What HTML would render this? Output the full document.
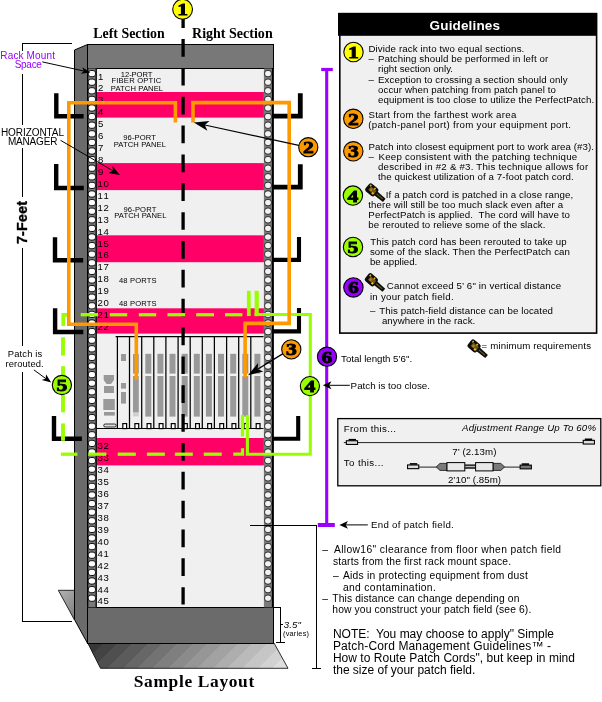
<!DOCTYPE html>
<html lang="en"><head><meta charset="utf-8"><title>Sample Layout - Guidelines</title>
<style>html,body{margin:0;padding:0;background:#fff}body{width:602px;height:702px;overflow:hidden}svg{will-change:transform}svg text{white-space:pre}</style>
</head><body>
<svg width="602" height="702" viewBox="0 0 602 702" style="display:block">
<defs>
<linearGradient id="sh" gradientUnits="userSpaceOnUse" x1="88" y1="643" x2="200.5" y2="755.5"><stop offset="0.0000" stop-color="#383838"/><stop offset="0.0667" stop-color="#383838"/><stop offset="0.0667" stop-color="#434343"/><stop offset="0.1333" stop-color="#434343"/><stop offset="0.1333" stop-color="#4f4f4f"/><stop offset="0.2000" stop-color="#4f4f4f"/><stop offset="0.2000" stop-color="#5b5b5b"/><stop offset="0.2667" stop-color="#5b5b5b"/><stop offset="0.2667" stop-color="#676767"/><stop offset="0.3333" stop-color="#676767"/><stop offset="0.3333" stop-color="#737373"/><stop offset="0.4000" stop-color="#737373"/><stop offset="0.4000" stop-color="#7f7f7f"/><stop offset="0.4667" stop-color="#7f7f7f"/><stop offset="0.4667" stop-color="#8b8b8b"/><stop offset="0.5333" stop-color="#8b8b8b"/><stop offset="0.5333" stop-color="#969696"/><stop offset="0.6000" stop-color="#969696"/><stop offset="0.6000" stop-color="#a2a2a2"/><stop offset="0.6667" stop-color="#a2a2a2"/><stop offset="0.6667" stop-color="#aeaeae"/><stop offset="0.7333" stop-color="#aeaeae"/><stop offset="0.7333" stop-color="#bababa"/><stop offset="0.8000" stop-color="#bababa"/><stop offset="0.8000" stop-color="#c6c6c6"/><stop offset="0.8667" stop-color="#c6c6c6"/><stop offset="0.8667" stop-color="#d2d2d2"/><stop offset="0.9333" stop-color="#d2d2d2"/><stop offset="0.9333" stop-color="#dedede"/><stop offset="1.0000" stop-color="#dedede"/></linearGradient>
<linearGradient id="sh2" gradientUnits="userSpaceOnUse" x1="58" y1="590" x2="80.5" y2="612.5"><stop offset="0" stop-color="#b4b4b4"/><stop offset="1" stop-color="#7c7c7c"/></linearGradient>
</defs>
<rect width="602" height="702" fill="#fff"/>
<polygon points="58.3,590.3 74.5,590.3 74.5,620 " fill="url(#sh2)" stroke="#000" stroke-width="0.8"/>
<polygon points="87.7,643 274,643 288,668.3 100.5,668.3" fill="url(#sh)" stroke="#000" stroke-width="0.8"/>
<polygon points="74.5,50 87.5,44.5 87.5,643.3 74.5,619.6" fill="#6b6b6b" stroke="#000" stroke-width="1"/>
<rect x="96.5" y="68.5" width="167.5" height="539" fill="#f0f0f0"/>
<rect x="87.5" y="44.5" width="186" height="24" fill="#787878" stroke="#000" stroke-width="1" shape-rendering="crispEdges"/>
<rect x="87.5" y="607.5" width="186" height="36" fill="#6b6b6b" stroke="#000" stroke-width="1" shape-rendering="crispEdges"/>
<rect x="87.6" y="68.5" width="8.9" height="538.8" fill="#7a7a7a"/>
<rect x="263.9" y="68.5" width="9.1" height="538.8" fill="#7a7a7a"/>
<line x1="87.7" y1="68" x2="87.7" y2="607" stroke="#000" stroke-width="1.3"/>
<line x1="272.9" y1="68" x2="272.9" y2="607" stroke="#000" stroke-width="2"/>
<rect x="96.5" y="92" width="167.4" height="25.6" fill="#ff0066"/>
<rect x="96.5" y="163.1" width="167.4" height="27.0" fill="#ff0066"/>
<rect x="96.5" y="235.3" width="167.4" height="26.9" fill="#ff0066"/>
<rect x="96.5" y="308.3" width="167.4" height="25.3" fill="#ff0066"/>
<rect x="96.5" y="438" width="167.4" height="27.4" fill="#ff0066"/>
<line x1="96.2" y1="68.5" x2="96.2" y2="607" stroke="#000" stroke-width="1.3"/>
<rect x="88.3" y="70.50" width="7.2" height="6.2" rx="2.5" fill="#fdfdfd" stroke="#000" stroke-width="0.9"/>
<rect x="264.6" y="70.50" width="6.8" height="6.2" rx="2.6" fill="#f2f2f2" stroke="#1a1a1a" stroke-width="0.9"/>
<rect x="88.3" y="79.10" width="7.2" height="6.2" rx="2.5" fill="#fdfdfd" stroke="#000" stroke-width="0.9"/>
<rect x="264.6" y="79.10" width="6.8" height="6.2" rx="2.6" fill="#f2f2f2" stroke="#1a1a1a" stroke-width="0.9"/>
<rect x="88.3" y="87.70" width="7.2" height="6.2" rx="2.5" fill="#fdfdfd" stroke="#000" stroke-width="0.9"/>
<rect x="264.6" y="87.70" width="6.8" height="6.2" rx="2.6" fill="#f2f2f2" stroke="#1a1a1a" stroke-width="0.9"/>
<rect x="88.3" y="96.30" width="7.2" height="6.2" rx="2.5" fill="#fdfdfd" stroke="#000" stroke-width="0.9"/>
<rect x="264.6" y="96.30" width="6.8" height="6.2" rx="2.6" fill="#f2f2f2" stroke="#1a1a1a" stroke-width="0.9"/>
<rect x="88.3" y="104.90" width="7.2" height="6.2" rx="2.5" fill="#fdfdfd" stroke="#000" stroke-width="0.9"/>
<rect x="264.6" y="104.90" width="6.8" height="6.2" rx="2.6" fill="#f2f2f2" stroke="#1a1a1a" stroke-width="0.9"/>
<rect x="88.3" y="113.50" width="7.2" height="6.2" rx="2.5" fill="#fdfdfd" stroke="#000" stroke-width="0.9"/>
<rect x="264.6" y="113.50" width="6.8" height="6.2" rx="2.6" fill="#f2f2f2" stroke="#1a1a1a" stroke-width="0.9"/>
<rect x="88.3" y="122.10" width="7.2" height="6.2" rx="2.5" fill="#fdfdfd" stroke="#000" stroke-width="0.9"/>
<rect x="264.6" y="122.10" width="6.8" height="6.2" rx="2.6" fill="#f2f2f2" stroke="#1a1a1a" stroke-width="0.9"/>
<rect x="88.3" y="130.70" width="7.2" height="6.2" rx="2.5" fill="#fdfdfd" stroke="#000" stroke-width="0.9"/>
<rect x="264.6" y="130.70" width="6.8" height="6.2" rx="2.6" fill="#f2f2f2" stroke="#1a1a1a" stroke-width="0.9"/>
<rect x="88.3" y="139.30" width="7.2" height="6.2" rx="2.5" fill="#fdfdfd" stroke="#000" stroke-width="0.9"/>
<rect x="264.6" y="139.30" width="6.8" height="6.2" rx="2.6" fill="#f2f2f2" stroke="#1a1a1a" stroke-width="0.9"/>
<rect x="88.3" y="147.90" width="7.2" height="6.2" rx="2.5" fill="#fdfdfd" stroke="#000" stroke-width="0.9"/>
<rect x="264.6" y="147.90" width="6.8" height="6.2" rx="2.6" fill="#f2f2f2" stroke="#1a1a1a" stroke-width="0.9"/>
<rect x="88.3" y="156.50" width="7.2" height="6.2" rx="2.5" fill="#fdfdfd" stroke="#000" stroke-width="0.9"/>
<rect x="264.6" y="156.50" width="6.8" height="6.2" rx="2.6" fill="#f2f2f2" stroke="#1a1a1a" stroke-width="0.9"/>
<rect x="88.3" y="165.10" width="7.2" height="6.2" rx="2.5" fill="#fdfdfd" stroke="#000" stroke-width="0.9"/>
<rect x="264.6" y="165.10" width="6.8" height="6.2" rx="2.6" fill="#f2f2f2" stroke="#1a1a1a" stroke-width="0.9"/>
<rect x="88.3" y="173.70" width="7.2" height="6.2" rx="2.5" fill="#fdfdfd" stroke="#000" stroke-width="0.9"/>
<rect x="264.6" y="173.70" width="6.8" height="6.2" rx="2.6" fill="#f2f2f2" stroke="#1a1a1a" stroke-width="0.9"/>
<rect x="88.3" y="182.30" width="7.2" height="6.2" rx="2.5" fill="#fdfdfd" stroke="#000" stroke-width="0.9"/>
<rect x="264.6" y="182.30" width="6.8" height="6.2" rx="2.6" fill="#f2f2f2" stroke="#1a1a1a" stroke-width="0.9"/>
<rect x="88.3" y="190.90" width="7.2" height="6.2" rx="2.5" fill="#fdfdfd" stroke="#000" stroke-width="0.9"/>
<rect x="264.6" y="190.90" width="6.8" height="6.2" rx="2.6" fill="#f2f2f2" stroke="#1a1a1a" stroke-width="0.9"/>
<rect x="88.3" y="199.50" width="7.2" height="6.2" rx="2.5" fill="#fdfdfd" stroke="#000" stroke-width="0.9"/>
<rect x="264.6" y="199.50" width="6.8" height="6.2" rx="2.6" fill="#f2f2f2" stroke="#1a1a1a" stroke-width="0.9"/>
<rect x="88.3" y="208.10" width="7.2" height="6.2" rx="2.5" fill="#fdfdfd" stroke="#000" stroke-width="0.9"/>
<rect x="264.6" y="208.10" width="6.8" height="6.2" rx="2.6" fill="#f2f2f2" stroke="#1a1a1a" stroke-width="0.9"/>
<rect x="88.3" y="216.70" width="7.2" height="6.2" rx="2.5" fill="#fdfdfd" stroke="#000" stroke-width="0.9"/>
<rect x="264.6" y="216.70" width="6.8" height="6.2" rx="2.6" fill="#f2f2f2" stroke="#1a1a1a" stroke-width="0.9"/>
<rect x="88.3" y="225.30" width="7.2" height="6.2" rx="2.5" fill="#fdfdfd" stroke="#000" stroke-width="0.9"/>
<rect x="264.6" y="225.30" width="6.8" height="6.2" rx="2.6" fill="#f2f2f2" stroke="#1a1a1a" stroke-width="0.9"/>
<rect x="88.3" y="233.90" width="7.2" height="6.2" rx="2.5" fill="#fdfdfd" stroke="#000" stroke-width="0.9"/>
<rect x="264.6" y="233.90" width="6.8" height="6.2" rx="2.6" fill="#f2f2f2" stroke="#1a1a1a" stroke-width="0.9"/>
<rect x="88.3" y="242.50" width="7.2" height="6.2" rx="2.5" fill="#fdfdfd" stroke="#000" stroke-width="0.9"/>
<rect x="264.6" y="242.50" width="6.8" height="6.2" rx="2.6" fill="#f2f2f2" stroke="#1a1a1a" stroke-width="0.9"/>
<rect x="88.3" y="251.10" width="7.2" height="6.2" rx="2.5" fill="#fdfdfd" stroke="#000" stroke-width="0.9"/>
<rect x="264.6" y="251.10" width="6.8" height="6.2" rx="2.6" fill="#f2f2f2" stroke="#1a1a1a" stroke-width="0.9"/>
<rect x="88.3" y="259.70" width="7.2" height="6.2" rx="2.5" fill="#fdfdfd" stroke="#000" stroke-width="0.9"/>
<rect x="264.6" y="259.70" width="6.8" height="6.2" rx="2.6" fill="#f2f2f2" stroke="#1a1a1a" stroke-width="0.9"/>
<rect x="88.3" y="268.30" width="7.2" height="6.2" rx="2.5" fill="#fdfdfd" stroke="#000" stroke-width="0.9"/>
<rect x="264.6" y="268.30" width="6.8" height="6.2" rx="2.6" fill="#f2f2f2" stroke="#1a1a1a" stroke-width="0.9"/>
<rect x="88.3" y="276.90" width="7.2" height="6.2" rx="2.5" fill="#fdfdfd" stroke="#000" stroke-width="0.9"/>
<rect x="264.6" y="276.90" width="6.8" height="6.2" rx="2.6" fill="#f2f2f2" stroke="#1a1a1a" stroke-width="0.9"/>
<rect x="88.3" y="285.50" width="7.2" height="6.2" rx="2.5" fill="#fdfdfd" stroke="#000" stroke-width="0.9"/>
<rect x="264.6" y="285.50" width="6.8" height="6.2" rx="2.6" fill="#f2f2f2" stroke="#1a1a1a" stroke-width="0.9"/>
<rect x="88.3" y="294.10" width="7.2" height="6.2" rx="2.5" fill="#fdfdfd" stroke="#000" stroke-width="0.9"/>
<rect x="264.6" y="294.10" width="6.8" height="6.2" rx="2.6" fill="#f2f2f2" stroke="#1a1a1a" stroke-width="0.9"/>
<rect x="88.3" y="302.70" width="7.2" height="6.2" rx="2.5" fill="#fdfdfd" stroke="#000" stroke-width="0.9"/>
<rect x="264.6" y="302.70" width="6.8" height="6.2" rx="2.6" fill="#f2f2f2" stroke="#1a1a1a" stroke-width="0.9"/>
<rect x="88.3" y="311.30" width="7.2" height="6.2" rx="2.5" fill="#fdfdfd" stroke="#000" stroke-width="0.9"/>
<rect x="264.6" y="311.30" width="6.8" height="6.2" rx="2.6" fill="#f2f2f2" stroke="#1a1a1a" stroke-width="0.9"/>
<rect x="88.3" y="319.90" width="7.2" height="6.2" rx="2.5" fill="#fdfdfd" stroke="#000" stroke-width="0.9"/>
<rect x="264.6" y="319.90" width="6.8" height="6.2" rx="2.6" fill="#f2f2f2" stroke="#1a1a1a" stroke-width="0.9"/>
<rect x="88.3" y="328.50" width="7.2" height="6.2" rx="2.5" fill="#fdfdfd" stroke="#000" stroke-width="0.9"/>
<rect x="264.6" y="328.50" width="6.8" height="6.2" rx="2.6" fill="#f2f2f2" stroke="#1a1a1a" stroke-width="0.9"/>
<rect x="88.3" y="337.10" width="7.2" height="6.2" rx="2.5" fill="#fdfdfd" stroke="#000" stroke-width="0.9"/>
<rect x="264.6" y="337.10" width="6.8" height="6.2" rx="2.6" fill="#f2f2f2" stroke="#1a1a1a" stroke-width="0.9"/>
<rect x="88.3" y="345.70" width="7.2" height="6.2" rx="2.5" fill="#fdfdfd" stroke="#000" stroke-width="0.9"/>
<rect x="264.6" y="345.70" width="6.8" height="6.2" rx="2.6" fill="#f2f2f2" stroke="#1a1a1a" stroke-width="0.9"/>
<rect x="88.3" y="354.30" width="7.2" height="6.2" rx="2.5" fill="#fdfdfd" stroke="#000" stroke-width="0.9"/>
<rect x="264.6" y="354.30" width="6.8" height="6.2" rx="2.6" fill="#f2f2f2" stroke="#1a1a1a" stroke-width="0.9"/>
<rect x="88.3" y="362.90" width="7.2" height="6.2" rx="2.5" fill="#fdfdfd" stroke="#000" stroke-width="0.9"/>
<rect x="264.6" y="362.90" width="6.8" height="6.2" rx="2.6" fill="#f2f2f2" stroke="#1a1a1a" stroke-width="0.9"/>
<rect x="88.3" y="371.50" width="7.2" height="6.2" rx="2.5" fill="#fdfdfd" stroke="#000" stroke-width="0.9"/>
<rect x="264.6" y="371.50" width="6.8" height="6.2" rx="2.6" fill="#f2f2f2" stroke="#1a1a1a" stroke-width="0.9"/>
<rect x="88.3" y="380.10" width="7.2" height="6.2" rx="2.5" fill="#fdfdfd" stroke="#000" stroke-width="0.9"/>
<rect x="264.6" y="380.10" width="6.8" height="6.2" rx="2.6" fill="#f2f2f2" stroke="#1a1a1a" stroke-width="0.9"/>
<rect x="88.3" y="388.70" width="7.2" height="6.2" rx="2.5" fill="#fdfdfd" stroke="#000" stroke-width="0.9"/>
<rect x="264.6" y="388.70" width="6.8" height="6.2" rx="2.6" fill="#f2f2f2" stroke="#1a1a1a" stroke-width="0.9"/>
<rect x="88.3" y="397.30" width="7.2" height="6.2" rx="2.5" fill="#fdfdfd" stroke="#000" stroke-width="0.9"/>
<rect x="264.6" y="397.30" width="6.8" height="6.2" rx="2.6" fill="#f2f2f2" stroke="#1a1a1a" stroke-width="0.9"/>
<rect x="88.3" y="405.90" width="7.2" height="6.2" rx="2.5" fill="#fdfdfd" stroke="#000" stroke-width="0.9"/>
<rect x="264.6" y="405.90" width="6.8" height="6.2" rx="2.6" fill="#f2f2f2" stroke="#1a1a1a" stroke-width="0.9"/>
<rect x="88.3" y="414.50" width="7.2" height="6.2" rx="2.5" fill="#fdfdfd" stroke="#000" stroke-width="0.9"/>
<rect x="264.6" y="414.50" width="6.8" height="6.2" rx="2.6" fill="#f2f2f2" stroke="#1a1a1a" stroke-width="0.9"/>
<rect x="88.3" y="423.10" width="7.2" height="6.2" rx="2.5" fill="#fdfdfd" stroke="#000" stroke-width="0.9"/>
<rect x="264.6" y="423.10" width="6.8" height="6.2" rx="2.6" fill="#f2f2f2" stroke="#1a1a1a" stroke-width="0.9"/>
<rect x="88.3" y="431.70" width="7.2" height="6.2" rx="2.5" fill="#fdfdfd" stroke="#000" stroke-width="0.9"/>
<rect x="264.6" y="431.70" width="6.8" height="6.2" rx="2.6" fill="#f2f2f2" stroke="#1a1a1a" stroke-width="0.9"/>
<rect x="88.3" y="440.30" width="7.2" height="6.2" rx="2.5" fill="#fdfdfd" stroke="#000" stroke-width="0.9"/>
<rect x="264.6" y="440.30" width="6.8" height="6.2" rx="2.6" fill="#f2f2f2" stroke="#1a1a1a" stroke-width="0.9"/>
<rect x="88.3" y="448.90" width="7.2" height="6.2" rx="2.5" fill="#fdfdfd" stroke="#000" stroke-width="0.9"/>
<rect x="264.6" y="448.90" width="6.8" height="6.2" rx="2.6" fill="#f2f2f2" stroke="#1a1a1a" stroke-width="0.9"/>
<rect x="88.3" y="457.50" width="7.2" height="6.2" rx="2.5" fill="#fdfdfd" stroke="#000" stroke-width="0.9"/>
<rect x="264.6" y="457.50" width="6.8" height="6.2" rx="2.6" fill="#f2f2f2" stroke="#1a1a1a" stroke-width="0.9"/>
<rect x="88.3" y="466.10" width="7.2" height="6.2" rx="2.5" fill="#fdfdfd" stroke="#000" stroke-width="0.9"/>
<rect x="264.6" y="466.10" width="6.8" height="6.2" rx="2.6" fill="#f2f2f2" stroke="#1a1a1a" stroke-width="0.9"/>
<rect x="88.3" y="474.70" width="7.2" height="6.2" rx="2.5" fill="#fdfdfd" stroke="#000" stroke-width="0.9"/>
<rect x="264.6" y="474.70" width="6.8" height="6.2" rx="2.6" fill="#f2f2f2" stroke="#1a1a1a" stroke-width="0.9"/>
<rect x="88.3" y="483.30" width="7.2" height="6.2" rx="2.5" fill="#fdfdfd" stroke="#000" stroke-width="0.9"/>
<rect x="264.6" y="483.30" width="6.8" height="6.2" rx="2.6" fill="#f2f2f2" stroke="#1a1a1a" stroke-width="0.9"/>
<rect x="88.3" y="491.90" width="7.2" height="6.2" rx="2.5" fill="#fdfdfd" stroke="#000" stroke-width="0.9"/>
<rect x="264.6" y="491.90" width="6.8" height="6.2" rx="2.6" fill="#f2f2f2" stroke="#1a1a1a" stroke-width="0.9"/>
<rect x="88.3" y="500.50" width="7.2" height="6.2" rx="2.5" fill="#fdfdfd" stroke="#000" stroke-width="0.9"/>
<rect x="264.6" y="500.50" width="6.8" height="6.2" rx="2.6" fill="#f2f2f2" stroke="#1a1a1a" stroke-width="0.9"/>
<rect x="88.3" y="509.10" width="7.2" height="6.2" rx="2.5" fill="#fdfdfd" stroke="#000" stroke-width="0.9"/>
<rect x="264.6" y="509.10" width="6.8" height="6.2" rx="2.6" fill="#f2f2f2" stroke="#1a1a1a" stroke-width="0.9"/>
<rect x="88.3" y="517.70" width="7.2" height="6.2" rx="2.5" fill="#fdfdfd" stroke="#000" stroke-width="0.9"/>
<rect x="264.6" y="517.70" width="6.8" height="6.2" rx="2.6" fill="#f2f2f2" stroke="#1a1a1a" stroke-width="0.9"/>
<rect x="88.3" y="526.30" width="7.2" height="6.2" rx="2.5" fill="#fdfdfd" stroke="#000" stroke-width="0.9"/>
<rect x="264.6" y="526.30" width="6.8" height="6.2" rx="2.6" fill="#f2f2f2" stroke="#1a1a1a" stroke-width="0.9"/>
<rect x="88.3" y="534.90" width="7.2" height="6.2" rx="2.5" fill="#fdfdfd" stroke="#000" stroke-width="0.9"/>
<rect x="264.6" y="534.90" width="6.8" height="6.2" rx="2.6" fill="#f2f2f2" stroke="#1a1a1a" stroke-width="0.9"/>
<rect x="88.3" y="543.50" width="7.2" height="6.2" rx="2.5" fill="#fdfdfd" stroke="#000" stroke-width="0.9"/>
<rect x="264.6" y="543.50" width="6.8" height="6.2" rx="2.6" fill="#f2f2f2" stroke="#1a1a1a" stroke-width="0.9"/>
<rect x="88.3" y="552.10" width="7.2" height="6.2" rx="2.5" fill="#fdfdfd" stroke="#000" stroke-width="0.9"/>
<rect x="264.6" y="552.10" width="6.8" height="6.2" rx="2.6" fill="#f2f2f2" stroke="#1a1a1a" stroke-width="0.9"/>
<rect x="88.3" y="560.70" width="7.2" height="6.2" rx="2.5" fill="#fdfdfd" stroke="#000" stroke-width="0.9"/>
<rect x="264.6" y="560.70" width="6.8" height="6.2" rx="2.6" fill="#f2f2f2" stroke="#1a1a1a" stroke-width="0.9"/>
<rect x="88.3" y="569.30" width="7.2" height="6.2" rx="2.5" fill="#fdfdfd" stroke="#000" stroke-width="0.9"/>
<rect x="264.6" y="569.30" width="6.8" height="6.2" rx="2.6" fill="#f2f2f2" stroke="#1a1a1a" stroke-width="0.9"/>
<rect x="88.3" y="577.90" width="7.2" height="6.2" rx="2.5" fill="#fdfdfd" stroke="#000" stroke-width="0.9"/>
<rect x="264.6" y="577.90" width="6.8" height="6.2" rx="2.6" fill="#f2f2f2" stroke="#1a1a1a" stroke-width="0.9"/>
<rect x="88.3" y="586.50" width="7.2" height="6.2" rx="2.5" fill="#fdfdfd" stroke="#000" stroke-width="0.9"/>
<rect x="264.6" y="586.50" width="6.8" height="6.2" rx="2.6" fill="#f2f2f2" stroke="#1a1a1a" stroke-width="0.9"/>
<rect x="88.3" y="595.10" width="7.2" height="6.2" rx="2.5" fill="#fdfdfd" stroke="#000" stroke-width="0.9"/>
<rect x="264.6" y="595.10" width="6.8" height="6.2" rx="2.6" fill="#f2f2f2" stroke="#1a1a1a" stroke-width="0.9"/>
<text x="98.0" y="79.5" font-size="9.6" font-family="Liberation Sans, Arial, sans-serif" fill="#000" textLength="5.4" lengthAdjust="spacing" >1</text>
<text x="98.0" y="91.4" font-size="9.6" font-family="Liberation Sans, Arial, sans-serif" fill="#000" textLength="5.4" lengthAdjust="spacing" >2</text>
<text x="98.0" y="103.4" font-size="9.6" font-family="Liberation Sans, Arial, sans-serif" fill="#000" textLength="5.4" lengthAdjust="spacing" >3</text>
<text x="98.0" y="115.3" font-size="9.6" font-family="Liberation Sans, Arial, sans-serif" fill="#000" textLength="5.4" lengthAdjust="spacing" >4</text>
<text x="98.0" y="127.2" font-size="9.6" font-family="Liberation Sans, Arial, sans-serif" fill="#000" textLength="5.4" lengthAdjust="spacing" >5</text>
<text x="98.0" y="139.2" font-size="9.6" font-family="Liberation Sans, Arial, sans-serif" fill="#000" textLength="5.4" lengthAdjust="spacing" >6</text>
<text x="98.0" y="151.1" font-size="9.6" font-family="Liberation Sans, Arial, sans-serif" fill="#000" textLength="5.4" lengthAdjust="spacing" >7</text>
<text x="98.0" y="163.0" font-size="9.6" font-family="Liberation Sans, Arial, sans-serif" fill="#000" textLength="5.4" lengthAdjust="spacing" >8</text>
<text x="98.0" y="174.9" font-size="9.6" font-family="Liberation Sans, Arial, sans-serif" fill="#000" textLength="5.4" lengthAdjust="spacing" >9</text>
<text x="97.6" y="186.9" font-size="9.6" font-family="Liberation Sans, Arial, sans-serif" fill="#000" textLength="11.2" lengthAdjust="spacing" >10</text>
<text x="97.6" y="198.8" font-size="9.6" font-family="Liberation Sans, Arial, sans-serif" fill="#000" textLength="11.2" lengthAdjust="spacing" >11</text>
<text x="97.6" y="210.7" font-size="9.6" font-family="Liberation Sans, Arial, sans-serif" fill="#000" textLength="11.2" lengthAdjust="spacing" >12</text>
<text x="97.6" y="222.7" font-size="9.6" font-family="Liberation Sans, Arial, sans-serif" fill="#000" textLength="11.2" lengthAdjust="spacing" >13</text>
<text x="97.6" y="234.6" font-size="9.6" font-family="Liberation Sans, Arial, sans-serif" fill="#000" textLength="11.2" lengthAdjust="spacing" >14</text>
<text x="97.6" y="246.5" font-size="9.6" font-family="Liberation Sans, Arial, sans-serif" fill="#000" textLength="11.2" lengthAdjust="spacing" >15</text>
<text x="97.6" y="258.4" font-size="9.6" font-family="Liberation Sans, Arial, sans-serif" fill="#000" textLength="11.2" lengthAdjust="spacing" >16</text>
<text x="97.6" y="270.4" font-size="9.6" font-family="Liberation Sans, Arial, sans-serif" fill="#000" textLength="11.2" lengthAdjust="spacing" >17</text>
<text x="97.6" y="282.3" font-size="9.6" font-family="Liberation Sans, Arial, sans-serif" fill="#000" textLength="11.2" lengthAdjust="spacing" >18</text>
<text x="97.6" y="294.2" font-size="9.6" font-family="Liberation Sans, Arial, sans-serif" fill="#000" textLength="11.2" lengthAdjust="spacing" >19</text>
<text x="97.6" y="306.2" font-size="9.6" font-family="Liberation Sans, Arial, sans-serif" fill="#000" textLength="11.2" lengthAdjust="spacing" >20</text>
<text x="97.6" y="318.1" font-size="9.6" font-family="Liberation Sans, Arial, sans-serif" fill="#000" textLength="11.2" lengthAdjust="spacing" >21</text>
<text x="97.6" y="330.0" font-size="9.6" font-family="Liberation Sans, Arial, sans-serif" fill="#000" textLength="11.2" lengthAdjust="spacing" >22</text>
<text x="97.6" y="449.3" font-size="9.6" font-family="Liberation Sans, Arial, sans-serif" fill="#000" textLength="11.2" lengthAdjust="spacing" >32</text>
<text x="97.6" y="461.3" font-size="9.6" font-family="Liberation Sans, Arial, sans-serif" fill="#000" textLength="11.2" lengthAdjust="spacing" >33</text>
<text x="97.6" y="473.2" font-size="9.6" font-family="Liberation Sans, Arial, sans-serif" fill="#000" textLength="11.2" lengthAdjust="spacing" >34</text>
<text x="97.6" y="485.1" font-size="9.6" font-family="Liberation Sans, Arial, sans-serif" fill="#000" textLength="11.2" lengthAdjust="spacing" >35</text>
<text x="97.6" y="497.0" font-size="9.6" font-family="Liberation Sans, Arial, sans-serif" fill="#000" textLength="11.2" lengthAdjust="spacing" >36</text>
<text x="97.6" y="509.0" font-size="9.6" font-family="Liberation Sans, Arial, sans-serif" fill="#000" textLength="11.2" lengthAdjust="spacing" >37</text>
<text x="97.6" y="520.9" font-size="9.6" font-family="Liberation Sans, Arial, sans-serif" fill="#000" textLength="11.2" lengthAdjust="spacing" >38</text>
<text x="97.6" y="532.8" font-size="9.6" font-family="Liberation Sans, Arial, sans-serif" fill="#000" textLength="11.2" lengthAdjust="spacing" >39</text>
<text x="97.6" y="544.8" font-size="9.6" font-family="Liberation Sans, Arial, sans-serif" fill="#000" textLength="11.2" lengthAdjust="spacing" >40</text>
<text x="97.6" y="556.7" font-size="9.6" font-family="Liberation Sans, Arial, sans-serif" fill="#000" textLength="11.2" lengthAdjust="spacing" >41</text>
<text x="97.6" y="568.6" font-size="9.6" font-family="Liberation Sans, Arial, sans-serif" fill="#000" textLength="11.2" lengthAdjust="spacing" >42</text>
<text x="97.6" y="580.6" font-size="9.6" font-family="Liberation Sans, Arial, sans-serif" fill="#000" textLength="11.2" lengthAdjust="spacing" >43</text>
<text x="97.6" y="592.5" font-size="9.6" font-family="Liberation Sans, Arial, sans-serif" fill="#000" textLength="11.2" lengthAdjust="spacing" >44</text>
<text x="97.6" y="604.4" font-size="9.6" font-family="Liberation Sans, Arial, sans-serif" fill="#000" textLength="11.2" lengthAdjust="spacing" >45</text>
<text x="120.8" y="76.7" font-size="7.6" font-family="Liberation Sans, Arial, sans-serif" fill="#000" textLength="31.6" lengthAdjust="spacing" >12-PORT</text>
<text x="111.4" y="83.4" font-size="7.6" font-family="Liberation Sans, Arial, sans-serif" fill="#000" textLength="49.8" lengthAdjust="spacing" >FIBER OPTIC</text>
<text x="110.8" y="90.7" font-size="7.6" font-family="Liberation Sans, Arial, sans-serif" fill="#000" textLength="52.3" lengthAdjust="spacing" >PATCH PANEL</text>
<text x="123.2" y="140.4" font-size="7.6" font-family="Liberation Sans, Arial, sans-serif" fill="#000" textLength="32.8" lengthAdjust="spacing" >96-PORT</text>
<text x="113.7" y="147.4" font-size="7.6" font-family="Liberation Sans, Arial, sans-serif" fill="#000" textLength="52.3" lengthAdjust="spacing" >PATCH PANEL</text>
<text x="123.5" y="211.5" font-size="7.6" font-family="Liberation Sans, Arial, sans-serif" fill="#000" textLength="32.8" lengthAdjust="spacing" >96-PORT</text>
<text x="114.2" y="218.3" font-size="7.6" font-family="Liberation Sans, Arial, sans-serif" fill="#000" textLength="52.3" lengthAdjust="spacing" >PATCH PANEL</text>
<text x="119.0" y="283.0" font-size="7.6" font-family="Liberation Sans, Arial, sans-serif" fill="#000" textLength="37.5" lengthAdjust="spacing" >48 PORTS</text>
<text x="119.0" y="306.2" font-size="7.6" font-family="Liberation Sans, Arial, sans-serif" fill="#000" textLength="37.5" lengthAdjust="spacing" >48 PORTS</text>
<g stroke="#000" stroke-width="1.25" fill="none">
<line x1="115.6" y1="336.5" x2="263.5" y2="336.5"/>
<line x1="96.5" y1="428.5" x2="263.5" y2="428.5" stroke-width="1.2"/>
<line x1="117.4" y1="336.6" x2="117.4" y2="428.5"/>
<line x1="129.5" y1="336.6" x2="129.5" y2="428.5"/>
<line x1="141.7" y1="336.6" x2="141.7" y2="428.5"/>
<line x1="153.8" y1="336.6" x2="153.8" y2="428.5"/>
<line x1="165.9" y1="336.6" x2="165.9" y2="428.5"/>
<line x1="178.1" y1="336.6" x2="178.1" y2="428.5"/>
<line x1="190.2" y1="336.6" x2="190.2" y2="428.5"/>
<line x1="202.3" y1="336.6" x2="202.3" y2="428.5"/>
<line x1="214.4" y1="336.6" x2="214.4" y2="428.5"/>
<line x1="226.6" y1="336.6" x2="226.6" y2="428.5"/>
<line x1="238.7" y1="336.6" x2="238.7" y2="428.5"/>
<line x1="250.8" y1="336.6" x2="250.8" y2="428.5"/>
</g>
<rect x="121" y="354" width="5" height="7" fill="#999999"/>
<rect x="121" y="383" width="5" height="5.6" fill="#999999"/>
<rect x="121" y="392" width="5" height="11.6" fill="#999999"/>
<rect x="122.8" y="423.6" width="3.8" height="5" fill="#fff" stroke="#000" stroke-width="1.2"/>
<rect x="133" y="354" width="5.8" height="19.6" fill="#999999"/>
<rect x="133" y="376" width="5.8" height="36.5" fill="#999999"/>
<rect x="133" y="413" width="5.8" height="3.4" fill="#d0d0d0"/>
<rect x="134.9" y="423.6" width="3.8" height="5" fill="#fff" stroke="#000" stroke-width="1.2"/>
<rect x="145.3" y="353.8" width="6" height="19.8" fill="#999999"/>
<rect x="145.3" y="376" width="6" height="40.6" fill="#999999"/>
<rect x="147.1" y="423.6" width="3.8" height="5" fill="#fff" stroke="#000" stroke-width="1.2"/>
<rect x="157.4" y="353.8" width="6" height="19.8" fill="#999999"/>
<rect x="157.4" y="376" width="6" height="40.6" fill="#999999"/>
<rect x="159.2" y="423.6" width="3.8" height="5" fill="#fff" stroke="#000" stroke-width="1.2"/>
<rect x="169.5" y="353.8" width="6" height="19.8" fill="#999999"/>
<rect x="169.5" y="376" width="6" height="40.6" fill="#999999"/>
<rect x="171.3" y="423.6" width="3.8" height="5" fill="#fff" stroke="#000" stroke-width="1.2"/>
<rect x="181.7" y="353.8" width="6" height="19.8" fill="#999999"/>
<rect x="181.7" y="376" width="6" height="40.6" fill="#999999"/>
<rect x="183.5" y="423.6" width="3.8" height="5" fill="#fff" stroke="#000" stroke-width="1.2"/>
<rect x="193.8" y="353.8" width="6" height="19.8" fill="#999999"/>
<rect x="193.8" y="376" width="6" height="40.6" fill="#999999"/>
<rect x="195.6" y="423.6" width="3.8" height="5" fill="#fff" stroke="#000" stroke-width="1.2"/>
<rect x="205.9" y="353.8" width="6" height="19.8" fill="#999999"/>
<rect x="205.9" y="376" width="6" height="40.6" fill="#999999"/>
<rect x="207.7" y="423.6" width="3.8" height="5" fill="#fff" stroke="#000" stroke-width="1.2"/>
<rect x="218.0" y="353.8" width="6" height="19.8" fill="#999999"/>
<rect x="218.0" y="376" width="6" height="40.6" fill="#999999"/>
<rect x="219.8" y="423.6" width="3.8" height="5" fill="#fff" stroke="#000" stroke-width="1.2"/>
<rect x="230.2" y="353.8" width="6" height="19.8" fill="#999999"/>
<rect x="230.2" y="376" width="6" height="40.6" fill="#999999"/>
<rect x="232.0" y="423.6" width="3.8" height="5" fill="#fff" stroke="#000" stroke-width="1.2"/>
<rect x="242.3" y="353.8" width="6" height="19.8" fill="#999999"/>
<rect x="242.3" y="376" width="6" height="40.6" fill="#999999"/>
<rect x="244.1" y="423.6" width="3.8" height="5" fill="#fff" stroke="#000" stroke-width="1.2"/>
<rect x="254.4" y="353.8" width="6" height="19.8" fill="#999999"/>
<rect x="254.4" y="376" width="6" height="40.6" fill="#999999"/>
<rect x="256.2" y="423.6" width="3.8" height="5" fill="#fff" stroke="#000" stroke-width="1.2"/>
<path d="M103.7,375 h10.3 v5 l-3,4 h-4.5 l-2.8,-4 z" fill="#999999"/>
<rect x="104" y="386" width="10" height="7" fill="#999999"/>
<rect x="103.3" y="399" width="11.5" height="11" fill="#999999"/>
<rect x="104" y="412" width="10.8" height="3.6" fill="#999999"/>
<rect x="103.7" y="424" width="12.5" height="3" rx="1.5" fill="#ddd" stroke="#000" stroke-width="0.8"/>
<g fill="none" stroke="#000" stroke-width="4.4">
<polyline points="56.3,93.3 56.3,116.2 83.6,116.2"/>
<polyline points="56.2,164 56.2,188 83.8,188"/>
<polyline points="55,237.3 55,260.2 83.2,260.2"/>
<polyline points="55.1,308.2 55.1,332 83.3,332"/>
<polyline points="54,416.1 54,438.8 81.9,438.8"/>
</g>
<g fill="none" stroke="#000">
<polyline points="273,116.2 300.3,116.2 300.3,93.2" stroke-width="4.8"/>
<polyline points="273,187.2 300.3,187.2 300.3,164.2" stroke-width="4.8"/>
<polyline points="273,259.9 299,259.9 299,237" stroke-width="4.1"/>
<polyline points="273,331.4 299,331.4 299,308" stroke-width="4.1"/>
<polyline points="273,438.8 298.2,438.8 298.2,416.1" stroke-width="4.1"/>
</g>
<line x1="183.1" y1="10.2" x2="183.1" y2="604.5" stroke="#000" stroke-width="3.3" stroke-dasharray="17.7 11.15"/>
<g stroke="#99ff00" fill="none">
<line x1="248.8" y1="290.8" x2="248.8" y2="316" stroke-width="3.8"/>
<line x1="80.7" y1="314.7" x2="98.1" y2="314.7" stroke-width="3.3"/>
<line x1="109.8" y1="314.7" x2="127.2" y2="314.7" stroke-width="3.3"/>
<line x1="138.8" y1="314.7" x2="156.2" y2="314.7" stroke-width="3.3"/>
<line x1="167.4" y1="314.7" x2="185.1" y2="314.7" stroke-width="3.3"/>
<line x1="196.2" y1="314.7" x2="214" y2="314.7" stroke-width="3.3"/>
<line x1="225" y1="314.7" x2="242.4" y2="314.7" stroke-width="3.3"/>
<polyline points="69.5,314.9 63.2,314.9 63.2,326" stroke-width="3.6" stroke-linejoin="miter"/>
<line x1="63" y1="337.3" x2="63" y2="355.5" stroke-width="3.9"/>
<line x1="63" y1="366.2" x2="63" y2="383.6" stroke-width="3.9"/>
<line x1="63" y1="394.9" x2="63" y2="412.3" stroke-width="3.9"/>
<line x1="63" y1="423.4" x2="63" y2="440.8" stroke-width="3.9"/>
<line x1="60.9" y1="454.2" x2="77.4" y2="454.2" stroke-width="3.3"/>
<line x1="88.2" y1="454.2" x2="106.4" y2="454.2" stroke-width="3.3"/>
<line x1="117.7" y1="454.2" x2="135.8" y2="454.2" stroke-width="3.3"/>
<line x1="146.9" y1="454.2" x2="164.9" y2="454.2" stroke-width="3.3"/>
<line x1="174.8" y1="454.2" x2="192.8" y2="454.2" stroke-width="3.3"/>
<line x1="203.7" y1="454.2" x2="221.7" y2="454.2" stroke-width="3.3"/>
<polyline points="233.2,454.2 242.5,454.2 242.5,448.2" stroke-width="3.2"/>
<line x1="242.5" y1="436.5" x2="242.5" y2="415" stroke-width="3.3"/>
<line x1="256.7" y1="290.8" x2="256.7" y2="316.2" stroke-width="4.2"/>
<polyline points="254.6,314.5 310.3,314.5 310.3,454.2 247.4,454.2 247.4,415" stroke-width="3.1"/>
</g>
<g stroke="#ff9900" fill="none" stroke-width="3.6">
<polyline points="175.4,122.6 175.4,102.7 68.8,102.7 68.8,324.2 136.3,324.2 136.3,379.4"/>
<polyline points="193,122.6 193,102.6 289.2,102.6 289.2,323.4 245.1,323.4 245.1,377.3"/>
</g>
<g stroke="#9900ff" fill="none">
<line x1="326.7" y1="69.5" x2="326.7" y2="525" stroke-width="3.1"/>
<line x1="321.2" y1="69.5" x2="332.8" y2="69.5" stroke-width="3.2"/>
<line x1="317.8" y1="525" x2="334.8" y2="525" stroke-width="4"/>
</g>
<g stroke="#000" stroke-width="1" fill="none" shape-rendering="crispEdges">
<polyline points="71.8,43.5 22.5,43.5 22.5,50.5"/><line x1="22.5" y1="73.5" x2="22.5" y2="124.5"/><line x1="22.5" y1="148" x2="22.5" y2="196.5"/>
<polyline points="22.5,248.2 22.5,346"/>
<polyline points="22.5,372 22.5,621.5 72,621.5"/>
<polyline points="249.5,525.5 316.5,525.5 316.5,668.5"/>
<line x1="311.5" y1="668.5" x2="320.8" y2="668.5"/>
<polyline points="273.5,607.5 280.5,607.5 280.5,642.5"/>
<line x1="275.7" y1="642.5" x2="285" y2="642.5"/>
<line x1="280.5" y1="624.5" x2="282.8" y2="624.5"/>
</g>
<line x1="42.3" y1="61.9" x2="83.8" y2="71.0" stroke="#000" stroke-width="1"/>
<polygon points="90.4,72.5 80.9,73.8 83.8,71.0 82.3,67.3" fill="#000"/>
<line x1="60.5" y1="140.3" x2="112.9" y2="170.8" stroke="#000" stroke-width="1"/>
<polygon points="120.0,175.0 108.5,172.9 112.9,170.8 112.5,166.0" fill="#000"/>
<line x1="300.0" y1="145.6" x2="204.8" y2="125.0" stroke="#000" stroke-width="1.1"/>
<polygon points="193.8,122.6 209.5,120.9 204.8,125.0 207.4,130.7" fill="#000"/>
<line x1="283.0" y1="353.6" x2="257.6" y2="369.3" stroke="#000" stroke-width="1.3"/>
<polygon points="248.0,375.2 258.1,363.1 257.6,369.3 263.4,371.6" fill="#000"/>
<line x1="33.9" y1="369.9" x2="45.7" y2="378.5" stroke="#000" stroke-width="1"/>
<polygon points="51.2,382.5 41.8,380.1 45.7,378.5 46.0,374.3" fill="#000"/>
<line x1="349.8" y1="385.3" x2="329.3" y2="385.3" stroke="#000" stroke-width="1"/>
<polygon points="322.9,385.3 331.4,381.3 329.3,385.3 331.4,389.3" fill="#000"/>
<line x1="367.8" y1="524.9" x2="345.8" y2="524.9" stroke="#000" stroke-width="1"/>
<polygon points="339.4,524.9 347.9,521.1 345.8,524.9 347.9,528.7" fill="#000"/>
<circle cx="182.6" cy="9.3" r="9.9" fill="#ffff00" stroke="#000" stroke-width="1.1"/>
<text transform="translate(182.6,15.2) scale(1.17,0.96)" x="0" y="0" font-size="18.5" font-weight="bold" text-anchor="middle" font-family="Liberation Serif, Times New Roman, serif" fill="#000" stroke="#000" stroke-width="0.9">1</text>
<circle cx="308.3" cy="147.2" r="9.6" fill="#ff9900" stroke="#000" stroke-width="1.1"/>
<text transform="translate(308.3,153.1) scale(1.17,0.96)" x="0" y="0" font-size="18.5" font-weight="bold" text-anchor="middle" font-family="Liberation Serif, Times New Roman, serif" fill="#000" stroke="#000" stroke-width="0.9">2</text>
<circle cx="291.3" cy="349.4" r="9.6" fill="#ff9900" stroke="#000" stroke-width="1.1"/>
<text transform="translate(291.3,355.3) scale(1.17,0.96)" x="0" y="0" font-size="18.5" font-weight="bold" text-anchor="middle" font-family="Liberation Serif, Times New Roman, serif" fill="#000" stroke="#000" stroke-width="0.9">3</text>
<circle cx="309.9" cy="386.1" r="9.6" fill="#99ff00" stroke="#000" stroke-width="1.1"/>
<text transform="translate(309.9,392.0) scale(1.17,0.96)" x="0" y="0" font-size="18.5" font-weight="bold" text-anchor="middle" font-family="Liberation Serif, Times New Roman, serif" fill="#000" stroke="#000" stroke-width="0.9">4</text>
<circle cx="61.9" cy="385" r="9.6" fill="#99ff00" stroke="#000" stroke-width="1.1"/>
<text transform="translate(61.9,390.9) scale(1.17,0.96)" x="0" y="0" font-size="18.5" font-weight="bold" text-anchor="middle" font-family="Liberation Serif, Times New Roman, serif" fill="#000" stroke="#000" stroke-width="0.9">5</text>
<circle cx="327" cy="356.7" r="9.6" fill="#9900ff" stroke="#000" stroke-width="1.1"/>
<text transform="translate(327,362.6) scale(1.17,0.96)" x="0" y="0" font-size="18.5" font-weight="bold" text-anchor="middle" font-family="Liberation Serif, Times New Roman, serif" fill="#000" stroke="#000" stroke-width="0.9">6</text>
<text x="93.3" y="37.8" font-size="14.6" font-family="Liberation Serif, Times New Roman, serif" fill="#000" textLength="71.4" lengthAdjust="spacingAndGlyphs" font-weight="bold">Left Section</text>
<text x="192.0" y="37.8" font-size="14.6" font-family="Liberation Serif, Times New Roman, serif" fill="#000" textLength="80.7" lengthAdjust="spacingAndGlyphs" font-weight="bold">Right Section</text>
<text x="133.8" y="687.2" font-size="17.4" font-family="Liberation Serif, Times New Roman, serif" fill="#000" textLength="120.4" lengthAdjust="spacing" font-weight="bold">Sample Layout</text>
<text x="0.3" y="59.1" font-size="10" font-family="Liberation Sans, Arial, sans-serif" fill="#9900ff" textLength="54.7" lengthAdjust="spacing" >Rack Mount</text>
<text x="14.7" y="67.8" font-size="10" font-family="Liberation Sans, Arial, sans-serif" fill="#9900ff" textLength="27.2" lengthAdjust="spacing" >Space</text>
<text x="0.9" y="135.7" font-size="10" font-family="Liberation Sans, Arial, sans-serif" fill="#000" textLength="63.1" lengthAdjust="spacing" >HORIZONTAL</text>
<text x="7.9" y="144.8" font-size="10" font-family="Liberation Sans, Arial, sans-serif" fill="#000" textLength="49.5" lengthAdjust="spacing" >MANAGER</text>
<text x="7.7" y="357.0" font-size="9.4" font-family="Liberation Sans, Arial, sans-serif" fill="#000" textLength="34.6" lengthAdjust="spacing" >Patch is</text>
<text x="5.6" y="367.0" font-size="9.4" font-family="Liberation Sans, Arial, sans-serif" fill="#000" textLength="38.0" lengthAdjust="spacing" >rerouted.</text>
<text transform="translate(27.3,244.1) rotate(-90)" font-size="14.2" font-weight="bold" stroke="#000" stroke-width="0.35" font-family="Liberation Sans, Arial, sans-serif" textLength="43.2" lengthAdjust="spacing">7-Feet</text>
<text x="283.7" y="627.7" font-size="9.6" font-family="Liberation Sans, Arial, sans-serif" fill="#000" textLength="17.3" lengthAdjust="spacing" font-style="italic">3.5"</text>
<text x="283.0" y="636.2" font-size="7.4" font-family="Liberation Sans, Arial, sans-serif" fill="#000" textLength="26.0" lengthAdjust="spacing" >(varies)</text>
<rect x="339.8" y="13.7" width="256.8" height="319.4" fill="#f0f0f0" stroke="#000" stroke-width="1.6"/>
<rect x="338" y="12.9" width="259" height="22.9" fill="#000"/>
<text x="429.6" y="30.2" font-size="13.5" font-family="Liberation Sans, Arial, sans-serif" fill="#fff" textLength="70.4" lengthAdjust="spacing" font-weight="bold">Guidelines</text>
<circle cx="353.5" cy="52" r="9.7" fill="#ffff00" stroke="#000" stroke-width="1.1"/>
<text transform="translate(353.5,57.9) scale(1.17,0.96)" x="0" y="0" font-size="18.5" font-weight="bold" text-anchor="middle" font-family="Liberation Serif, Times New Roman, serif" fill="#000" stroke="#000" stroke-width="0.9">1</text>
<circle cx="353.3" cy="118.8" r="9.7" fill="#ff9900" stroke="#000" stroke-width="1.1"/>
<text transform="translate(353.3,124.7) scale(1.17,0.96)" x="0" y="0" font-size="18.5" font-weight="bold" text-anchor="middle" font-family="Liberation Serif, Times New Roman, serif" fill="#000" stroke="#000" stroke-width="0.9">2</text>
<circle cx="353.3" cy="151.3" r="9.7" fill="#ff9900" stroke="#000" stroke-width="1.1"/>
<text transform="translate(353.3,157.2) scale(1.17,0.96)" x="0" y="0" font-size="18.5" font-weight="bold" text-anchor="middle" font-family="Liberation Serif, Times New Roman, serif" fill="#000" stroke="#000" stroke-width="0.9">3</text>
<circle cx="352.9" cy="195.6" r="9.7" fill="#99ff00" stroke="#000" stroke-width="1.1"/>
<text transform="translate(352.9,201.5) scale(1.17,0.96)" x="0" y="0" font-size="18.5" font-weight="bold" text-anchor="middle" font-family="Liberation Serif, Times New Roman, serif" fill="#000" stroke="#000" stroke-width="0.9">4</text>
<circle cx="353" cy="247" r="9.7" fill="#99ff00" stroke="#000" stroke-width="1.1"/>
<text transform="translate(353,252.9) scale(1.17,0.96)" x="0" y="0" font-size="18.5" font-weight="bold" text-anchor="middle" font-family="Liberation Serif, Times New Roman, serif" fill="#000" stroke="#000" stroke-width="0.9">5</text>
<circle cx="353.4" cy="287.4" r="9.7" fill="#9900ff" stroke="#000" stroke-width="1.1"/>
<text transform="translate(353.4,293.3) scale(1.17,0.96)" x="0" y="0" font-size="18.5" font-weight="bold" text-anchor="middle" font-family="Liberation Serif, Times New Roman, serif" fill="#000" stroke="#000" stroke-width="0.9">6</text>
<text x="368.4" y="52.4" font-size="9.7" font-family="Liberation Sans, Arial, sans-serif" fill="#000" textLength="155.9" lengthAdjust="spacing" xml:space="preserve">Divide rack into two equal sections.</text>
<text x="368.4" y="62.4" font-size="9.7" font-family="Liberation Sans, Arial, sans-serif" fill="#000" >–</text>
<text x="378.0" y="62.4" font-size="9.7" font-family="Liberation Sans, Arial, sans-serif" fill="#000" textLength="170.2" lengthAdjust="spacing" xml:space="preserve">Patching should be performed in left or</text>
<text x="378.0" y="72.4" font-size="9.7" font-family="Liberation Sans, Arial, sans-serif" fill="#000" textLength="75.0" lengthAdjust="spacing" xml:space="preserve">right section only.</text>
<text x="368.4" y="83.4" font-size="9.7" font-family="Liberation Sans, Arial, sans-serif" fill="#000" >–</text>
<text x="378.0" y="83.4" font-size="9.7" font-family="Liberation Sans, Arial, sans-serif" fill="#000" textLength="189.6" lengthAdjust="spacing" xml:space="preserve">Exception to crossing a section should only</text>
<text x="378.0" y="93.4" font-size="9.7" font-family="Liberation Sans, Arial, sans-serif" fill="#000" textLength="178.0" lengthAdjust="spacing" xml:space="preserve">occur when patching from patch panel to</text>
<text x="378.0" y="103.4" font-size="9.7" font-family="Liberation Sans, Arial, sans-serif" fill="#000" textLength="216.2" lengthAdjust="spacing" xml:space="preserve">equipment is too close to utilize the PerfectPatch.</text>
<text x="368.4" y="118.4" font-size="9.7" font-family="Liberation Sans, Arial, sans-serif" fill="#000" textLength="147.9" lengthAdjust="spacing" xml:space="preserve">Start from the farthest work area</text>
<text x="368.2" y="128.4" font-size="9.7" font-family="Liberation Sans, Arial, sans-serif" fill="#000" textLength="202.8" lengthAdjust="spacing" xml:space="preserve">(patch-panel port) from your equipment port.</text>
<text x="368.5" y="150.4" font-size="9.7" font-family="Liberation Sans, Arial, sans-serif" fill="#000" textLength="225.5" lengthAdjust="spacing" xml:space="preserve">Patch into closest equipment port to work area (#3).</text>
<text x="368.4" y="160.4" font-size="9.7" font-family="Liberation Sans, Arial, sans-serif" fill="#000" >–</text>
<text x="378.5" y="160.4" font-size="9.7" font-family="Liberation Sans, Arial, sans-serif" fill="#000" textLength="198.7" lengthAdjust="spacing" xml:space="preserve">Keep consistent with the patching technique</text>
<text x="378.0" y="170.0" font-size="9.7" font-family="Liberation Sans, Arial, sans-serif" fill="#000" textLength="210.2" lengthAdjust="spacing" xml:space="preserve">described in #2 &amp; #3. This technique allows for</text>
<text x="378.0" y="180.0" font-size="9.7" font-family="Liberation Sans, Arial, sans-serif" fill="#000" textLength="195.7" lengthAdjust="spacing" xml:space="preserve">the quickest utilization of a 7-foot patch cord.</text>
<text x="385.8" y="198.4" font-size="9.7" font-family="Liberation Sans, Arial, sans-serif" fill="#000" textLength="187.4" lengthAdjust="spacing" xml:space="preserve">If a patch cord is patched in a close range,</text>
<text x="368.3" y="208.4" font-size="9.7" font-family="Liberation Sans, Arial, sans-serif" fill="#000" textLength="194.8" lengthAdjust="spacing" xml:space="preserve">there will still be too much slack even after a</text>
<text x="368.3" y="218.4" font-size="9.7" font-family="Liberation Sans, Arial, sans-serif" fill="#000" textLength="201.7" lengthAdjust="spacing" xml:space="preserve">PerfectPatch is applied.  The cord will have to</text>
<text x="368.3" y="228.4" font-size="9.7" font-family="Liberation Sans, Arial, sans-serif" fill="#000" textLength="177.2" lengthAdjust="spacing" xml:space="preserve">be rerouted to relieve some of the slack.</text>
<text x="370.3" y="245.1" font-size="9.7" font-family="Liberation Sans, Arial, sans-serif" fill="#000" textLength="196.4" lengthAdjust="spacing" xml:space="preserve">This patch cord has been rerouted to take up</text>
<text x="369.9" y="255.1" font-size="9.7" font-family="Liberation Sans, Arial, sans-serif" fill="#000" textLength="200.1" lengthAdjust="spacing" xml:space="preserve">some of the slack. Then the PerfectPatch can</text>
<text x="369.9" y="265.4" font-size="9.7" font-family="Liberation Sans, Arial, sans-serif" fill="#000" textLength="47.4" lengthAdjust="spacing" xml:space="preserve">be applied.</text>
<text x="386.8" y="289.4" font-size="9.7" font-family="Liberation Sans, Arial, sans-serif" fill="#000" textLength="174.3" lengthAdjust="spacing" xml:space="preserve">Cannot exceed 5’ 6" in vertical distance</text>
<text x="369.9" y="299.8" font-size="9.7" font-family="Liberation Sans, Arial, sans-serif" fill="#000" textLength="83.7" lengthAdjust="spacing" xml:space="preserve">in your patch field.</text>
<text x="369.9" y="314.2" font-size="9.7" font-family="Liberation Sans, Arial, sans-serif" fill="#000" >–</text>
<text x="379.3" y="314.2" font-size="9.7" font-family="Liberation Sans, Arial, sans-serif" fill="#000" textLength="173.7" lengthAdjust="spacing" xml:space="preserve">This patch-field distance can be located</text>
<text x="381.9" y="324.1" font-size="9.7" font-family="Liberation Sans, Arial, sans-serif" fill="#000" textLength="93.4" lengthAdjust="spacing" xml:space="preserve">anywhere in the rack.</text>
<g transform="translate(372.3,190.3) rotate(40) scale(0.93)">
<rect x="-7" y="-5.3" width="12.5" height="10.6" rx="2.6" fill="#0c0c0c"/>
<rect x="-3.6" y="-2.4" width="7.6" height="4.8" fill="#6b5a12"/>
<rect x="-5.4" y="-3.8" width="1.6" height="2" fill="#f2b61c"/><rect x="0.2" y="-4.2" width="1.6" height="2.2" fill="#f2b61c"/><rect x="1.4" y="1.2" width="2.2" height="2.2" fill="#f4c020"/><rect x="-2.4" y="-0.8" width="2.2" height="2.6" fill="#c9742a"/>
<polygon points="5,-2.6 16.8,-2.2 16.8,2.2 5,2.6" fill="#0c0c0c"/>
<rect x="6" y="-0.6" width="8.5" height="1.2" fill="#6b5a12"/>
</g>
<g transform="translate(371.9,280.2) rotate(40) scale(0.93)">
<rect x="-7" y="-5.3" width="12.5" height="10.6" rx="2.6" fill="#0c0c0c"/>
<rect x="-3.6" y="-2.4" width="7.6" height="4.8" fill="#6b5a12"/>
<rect x="-5.4" y="-3.8" width="1.6" height="2" fill="#f2b61c"/><rect x="0.2" y="-4.2" width="1.6" height="2.2" fill="#f2b61c"/><rect x="1.4" y="1.2" width="2.2" height="2.2" fill="#f4c020"/><rect x="-2.4" y="-0.8" width="2.2" height="2.6" fill="#c9742a"/>
<polygon points="5,-2.6 16.8,-2.2 16.8,2.2 5,2.6" fill="#0c0c0c"/>
<rect x="6" y="-0.6" width="8.5" height="1.2" fill="#6b5a12"/>
</g>
<g transform="translate(474.6,346.4) rotate(40) scale(0.93)">
<rect x="-7" y="-5.3" width="12.5" height="10.6" rx="2.6" fill="#0c0c0c"/>
<rect x="-3.6" y="-2.4" width="7.6" height="4.8" fill="#6b5a12"/>
<rect x="-5.4" y="-3.8" width="1.6" height="2" fill="#f2b61c"/><rect x="0.2" y="-4.2" width="1.6" height="2.2" fill="#f2b61c"/><rect x="1.4" y="1.2" width="2.2" height="2.2" fill="#f4c020"/><rect x="-2.4" y="-0.8" width="2.2" height="2.6" fill="#c9742a"/>
<polygon points="5,-2.6 16.8,-2.2 16.8,2.2 5,2.6" fill="#0c0c0c"/>
<rect x="6" y="-0.6" width="8.5" height="1.2" fill="#6b5a12"/>
</g>
<text x="481.6" y="349.4" font-size="9.7" font-family="Liberation Sans, Arial, sans-serif" fill="#000" textLength="109.4" lengthAdjust="spacing" >= minimum requirements</text>
<text x="341.1" y="362.3" font-size="9.7" font-family="Liberation Sans, Arial, sans-serif" fill="#000" textLength="71.0" lengthAdjust="spacing" >Total length 5’6".</text>
<text x="350.6" y="389.0" font-size="9.8" font-family="Liberation Sans, Arial, sans-serif" fill="#000" textLength="79.4" lengthAdjust="spacing" >Patch is too close.</text>
<text x="371.0" y="527.8" font-size="9.7" font-family="Liberation Sans, Arial, sans-serif" fill="#000" textLength="82.8" lengthAdjust="spacing" >End of patch field.</text>
<rect x="337.8" y="418.6" width="263" height="67.2" fill="#f0f0f0" stroke="#000" stroke-width="1.3"/>
<text x="343.8" y="432.2" font-size="9.7" font-family="Liberation Sans, Arial, sans-serif" fill="#000" textLength="52.2" lengthAdjust="spacing" >From this...</text>
<text x="343.8" y="466.0" font-size="9.7" font-family="Liberation Sans, Arial, sans-serif" fill="#000" textLength="39.7" lengthAdjust="spacing" >To this...</text>
<text x="462.1" y="430.9" font-size="9.7" font-family="Liberation Sans, Arial, sans-serif" fill="#000" textLength="133.9" lengthAdjust="spacing" font-style="italic">Adjustment Range Up To 60%</text>
<text x="452.3" y="455.4" font-size="9.7" font-family="Liberation Sans, Arial, sans-serif" fill="#000" textLength="44.2" lengthAdjust="spacing" >7’ (2.13m)</text>
<text x="447.9" y="482.8" font-size="9.7" font-family="Liberation Sans, Arial, sans-serif" fill="#000" textLength="53.1" lengthAdjust="spacing" >2’10" (.85m)</text>
<line x1="343.8" y1="442.6" x2="584" y2="442.6" stroke="#222" stroke-width="1"/>
<g transform="translate(345.8,440.2) scale(1,1)">
<rect x="0.55" y="0.55" width="11.2" height="3.7" fill="#dcdcdc" stroke="#000" stroke-width="1.1"/>
<rect x="2.8" y="-1.3" width="7.4" height="1.6" fill="#000"/>
</g>
<g transform="translate(595,439.8) scale(-1,1)">
<rect x="0.55" y="0.55" width="11.2" height="3.7" fill="#dcdcdc" stroke="#000" stroke-width="1.1"/>
<rect x="2.8" y="-1.3" width="7.4" height="1.6" fill="#000"/>
</g>
<line x1="418" y1="467.1" x2="520" y2="467.1" stroke="#222" stroke-width="1"/>
<g transform="translate(407,464.4) scale(1,1)">
<rect x="0.55" y="0.55" width="11.2" height="3.7" fill="#dcdcdc" stroke="#000" stroke-width="1.1"/>
<rect x="2.8" y="-1.3" width="7.4" height="1.6" fill="#000"/>
</g>
<g transform="translate(531.9,464.6) scale(-1,1)">
<rect x="0.55" y="0.55" width="11.2" height="3.7" fill="#777" stroke="#000" stroke-width="1.1"/>
<rect x="2.8" y="-1.3" width="7.4" height="1.6" fill="#000"/>
</g>
<polygon points="436.2,466.9 440,463.4 447,463.4 447,470.4 440,470.4" fill="#7a7a7a" stroke="#222" stroke-width="0.9"/>
<polygon points="504.6,466.9 500.8,463.4 493,463.4 493,470.4 500.8,470.4" fill="#7a7a7a" stroke="#222" stroke-width="0.9"/>
<rect x="464.5" y="464.4" width="11.3" height="4.4" fill="#222"/>
<rect x="465" y="465.9" width="10.5" height="1.3" fill="#bbb"/>
<rect x="447" y="462.6" width="17.8" height="8.3" fill="#e9e9e9" stroke="#000" stroke-width="1"/>
<rect x="475.6" y="462.6" width="17.4" height="8.3" fill="#e9e9e9" stroke="#000" stroke-width="1"/>
<text x="322.2" y="552.8" font-size="10.3" font-family="Liberation Sans, Arial, sans-serif" fill="#000" textLength="6.3" lengthAdjust="spacing" >–</text>
<text x="333.9" y="552.8" font-size="10.3" font-family="Liberation Sans, Arial, sans-serif" fill="#000" textLength="227.2" lengthAdjust="spacing" xml:space="preserve">Allow16" clearance from floor when patch field</text>
<text x="332.9" y="565.3" font-size="10.3" font-family="Liberation Sans, Arial, sans-serif" fill="#000" textLength="178.2" lengthAdjust="spacing" xml:space="preserve">starts from the first rack mount space.</text>
<text x="332.9" y="578.5" font-size="10.3" font-family="Liberation Sans, Arial, sans-serif" fill="#000" textLength="6.3" lengthAdjust="spacing" >–</text>
<text x="342.9" y="578.5" font-size="10.3" font-family="Liberation Sans, Arial, sans-serif" fill="#000" textLength="184.9" lengthAdjust="spacing" xml:space="preserve">Aids in protecting equipment from dust</text>
<text x="342.9" y="590.5" font-size="10.3" font-family="Liberation Sans, Arial, sans-serif" fill="#000" textLength="92.9" lengthAdjust="spacing" xml:space="preserve">and contamination.</text>
<text x="322.2" y="601.6" font-size="10.3" font-family="Liberation Sans, Arial, sans-serif" fill="#000" textLength="6.3" lengthAdjust="spacing" >–</text>
<text x="332.2" y="601.6" font-size="10.3" font-family="Liberation Sans, Arial, sans-serif" fill="#000" textLength="187.2" lengthAdjust="spacing" xml:space="preserve">This distance can change depending on</text>
<text x="332.3" y="613.4" font-size="10.3" font-family="Liberation Sans, Arial, sans-serif" fill="#000" textLength="199.0" lengthAdjust="spacing" xml:space="preserve">how you construct your patch field (see 6).</text>
<text x="332.9" y="638.2" font-size="12" font-family="Liberation Sans, Arial, sans-serif" fill="#000" textLength="221.1" lengthAdjust="spacing" xml:space="preserve">NOTE:  You may choose to apply" Simple</text>
<text x="332.9" y="650.1" font-size="12" font-family="Liberation Sans, Arial, sans-serif" fill="#000" textLength="218.1" lengthAdjust="spacing" xml:space="preserve">Patch-Cord Management Guidelines™ -</text>
<text x="332.9" y="662.2" font-size="12" font-family="Liberation Sans, Arial, sans-serif" fill="#000" textLength="242.1" lengthAdjust="spacing" xml:space="preserve">How to Route Patch Cords", but keep in mind</text>
<text x="332.9" y="674.2" font-size="12" font-family="Liberation Sans, Arial, sans-serif" fill="#000" textLength="142.4" lengthAdjust="spacing" xml:space="preserve">the size of your patch field.</text>
</svg>
</body></html>
